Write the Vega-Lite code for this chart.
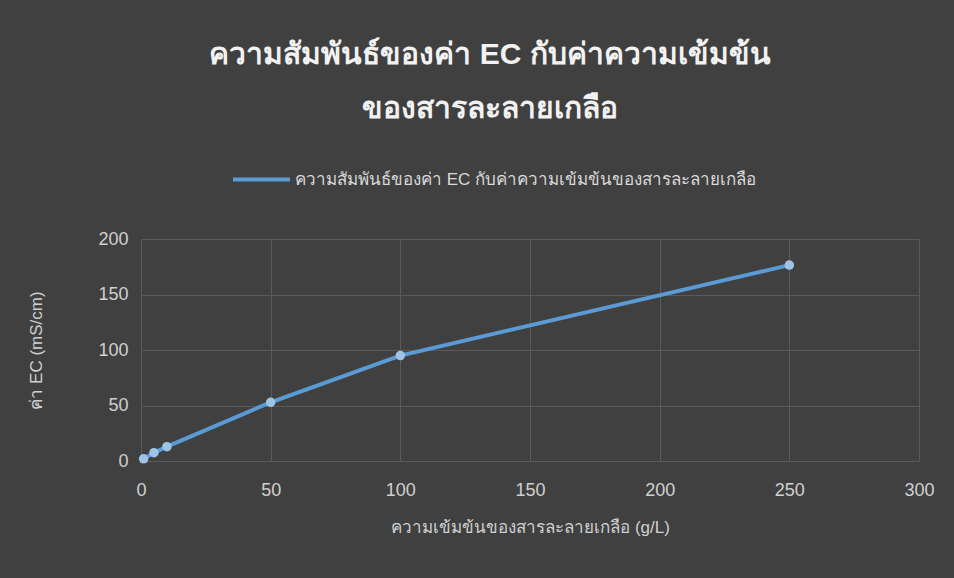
{
  "$schema": "https://vega.github.io/schema/vega-lite/v6.json",
  "autosize": "none",
  "width": 778,
  "height": 222,
  "padding": {"left": 141, "top": 239, "right": 35, "bottom": 117},
  "background": "#404040",
  "title": {
    "text": ["ความสัมพันธ์ของค่า EC กับค่าความเข้มข้น", "ของสารละลายเกลือ"],
    "fontSize": 30,
    "fontWeight": "bold",
    "color": "#f2f2f2",
    "lineHeight": 54,
    "anchor": "middle",
    "dx": -40,
    "offset": 25
  },
  "data": {
    "values": [
      {"conc": 1, "ec": 2, "series": "ความสัมพันธ์ของค่า EC กับค่าความเข้มข้นของสารละลายเกลือ"},
      {"conc": 5, "ec": 7.5, "series": "ความสัมพันธ์ของค่า EC กับค่าความเข้มข้นของสารละลายเกลือ"},
      {"conc": 10, "ec": 12.9, "series": "ความสัมพันธ์ของค่า EC กับค่าความเข้มข้นของสารละลายเกลือ"},
      {"conc": 50, "ec": 52.9, "series": "ความสัมพันธ์ของค่า EC กับค่าความเข้มข้นของสารละลายเกลือ"},
      {"conc": 100, "ec": 95, "series": "ความสัมพันธ์ของค่า EC กับค่าความเข้มข้นของสารละลายเกลือ"},
      {"conc": 250, "ec": 176.5, "series": "ความสัมพันธ์ของค่า EC กับค่าความเข้มข้นของสารละลายเกลือ"}
    ]
  },
  "layer": [
    {
      "mark": {"type": "line", "strokeWidth": 4, "strokeCap": "round"},
      "encoding": {
        "x": {
          "field": "conc", "type": "quantitative",
          "scale": {"domain": [0, 300], "nice": false},
          "axis": {"title": "ความเข้มข้นของสารละลายเกลือ (g/L)", "values": [0, 50, 100, 150, 200, 250, 300]}
        },
        "y": {
          "field": "ec", "type": "quantitative",
          "scale": {"domain": [0, 200], "nice": false},
          "axis": {"title": "ค่า EC (mS/cm)", "values": [0, 50, 100, 150, 200]}
        },
        "color": {
          "field": "series", "type": "nominal",
          "scale": {"range": ["#5b9bd5"]},
          "legend": {
            "title": null,
            "orient": "none",
            "legendX": 90,
            "legendY": -90,
            "symbolType": "stroke",
            "symbolSize": 3249,
            "symbolStrokeWidth": 4,
            "labelFontSize": 17,
            "labelOffset": 3,
            "labelColor": "#d9d9d9",
            "labelLimit": 800
          }
        }
      }
    },
    {
      "mark": {"type": "point", "filled": true, "size": 90, "color": "#9dc3e6", "opacity": 1},
      "encoding": {
        "x": {"field": "conc", "type": "quantitative"},
        "y": {"field": "ec", "type": "quantitative"}
      }
    }
  ],
  "config": {
    "view": {"stroke": null},
    "axis": {
      "gridColor": "#5a5a5a",
      "gridWidth": 1,
      "domain": false,
      "ticks": false,
      "labelFlush": false,
      "labelColor": "#d0d0d0",
      "labelFontSize": 18,
      "titleColor": "#d0d0d0",
      "titleFontSize": 17,
      "titleFontWeight": "normal"
    },
    "axisX": {"labelPadding": 20, "titlePadding": 20},
    "axisY": {"labelPadding": 13, "titlePadding": 52}
  }
}
